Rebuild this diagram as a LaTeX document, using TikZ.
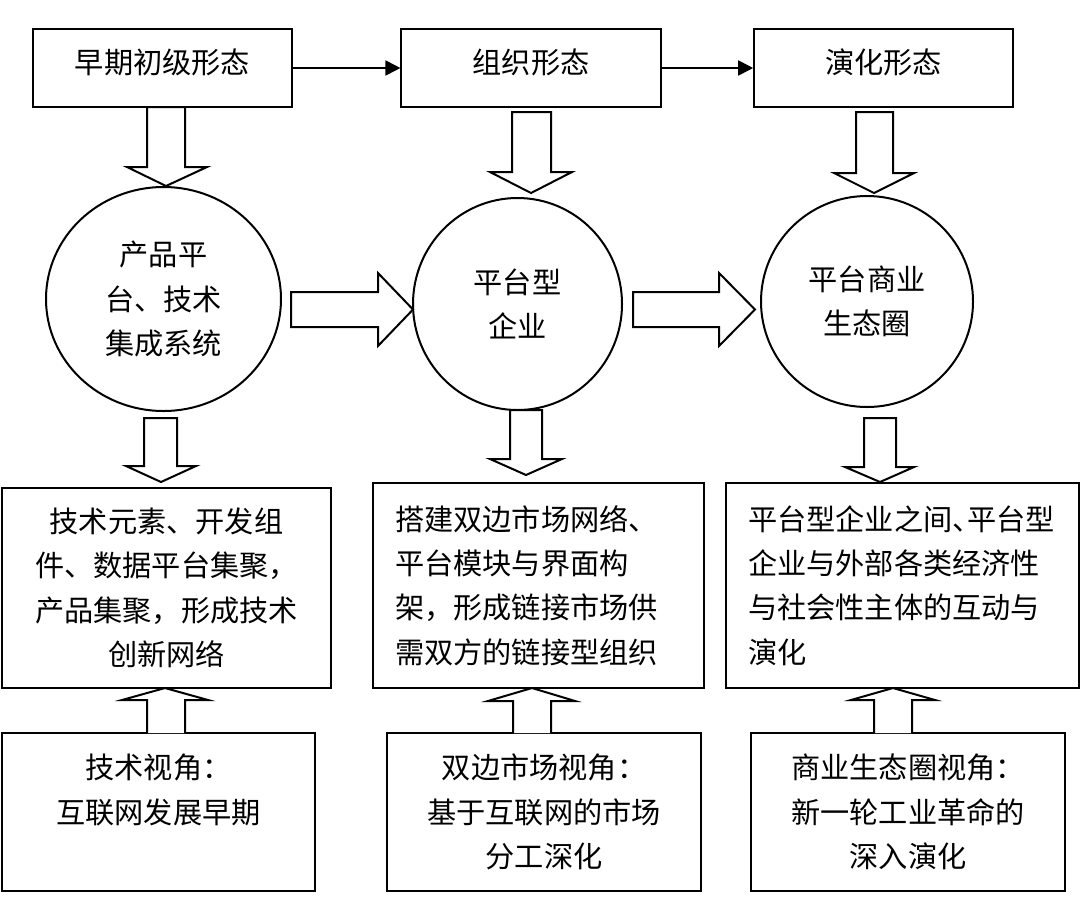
\documentclass[tikz,border=0pt]{standalone}
\usepackage{fontspec}
\setmainfont{Noto Sans CJK SC}
\usepackage{tikz}
\usetikzlibrary{positioning, shapes.geometric, arrows.meta}

\tikzset{
    box/.style={draw, line width=0.8pt, inner sep=0pt, align=center},
    headbox/.style={box, minimum height=39pt, text height=12.8pt, text depth=7.3pt},
    ring/.style={draw, ellipse, line width=1pt, inner sep=0pt, align=center},
    fat/.style={draw, line width=1pt, line join=miter, fill=white},
}

\begin{document}
\begin{tikzpicture}[x=0.5pt, y=-0.5pt, font=\fontsize{14.6}{22.2}\selectfont]
            \useasboundingbox (0, 0) rectangle (1080, 922);

            \node[headbox, minimum width=129.5pt] (early) at (162.5, 68) {早期初级形态};
            \node[headbox, minimum width=129.75pt] (organ) at (531, 68) {组织形态};
            \node[headbox, minimum width=129.5pt] (evolve) at (883.5, 68) {演化形态};

            \node[ring, minimum width=117.5pt, minimum height=112pt] (prodplat) at (163.5, 299) {产品平\\台、技术\\集成系统};
            \node[ring, minimum width=104.5pt, minimum height=106pt] (platfirm) at (517.5, 304) {平台型\\企业};
            \node[ring, minimum width=106pt, minimum height=105.5pt] (ecosys) at (867, 301.5) {平台商业\\生态圈};

            \node[box, minimum width=164.5pt, minimum height=100pt] (technet) at (166.5, 588) {技术元素、开发组\\件、数据平台集聚，\\产品集聚，形成技术\\创新网络};
            \node[box, align=left, inner xsep=11pt, text width=143.5pt, minimum height=102.5pt] (twoside) at (538.5, 585.5) {搭建双边市场网络、\\平台模块与界面构\\架，形成链接市场供\\需双方的链接型组织};
            \node[box, align=left, inner xsep=11pt, text width=154.5pt, minimum height=102.5pt] (interact) at (902.5, 585.5) {平台型企业之间\makebox[0.5em][l]{、}平台型\\企业与外部各类经济性\\与社会性主体的互动与\\演化};

            \node[box, minimum width=156.5pt, minimum height=79pt] (techview) at (158.5, 812) {技术视角：\\互联网发展早期\\\phantom{技}};
            \node[box, minimum width=157pt, minimum height=79pt] (marketview) at (544, 812) {双边市场视角：\\基于互联网的市场\\分工深化};
            \node[box, minimum width=157pt, minimum height=79pt] (ecoview) at (908, 812) {商业生态圈视角：\\新一轮工业革命的\\深入演化};

            \draw [-{Triangle[length=7.5pt, width=7.5pt]}, line width=0.9pt] (early) -- (organ);
            \draw [-{Triangle[length=7.5pt, width=7.5pt]}, line width=0.9pt] (organ) -- (evolve);

            % hollow arrows down from the forms
            \draw[fat] (147, 107) -- (147, 167) -- (127, 167) -- (166, 186) -- (207, 167) -- (185, 167) -- (185, 107) -- cycle;
            \draw[fat] (512, 112) -- (512, 172) -- (490, 172) -- (531, 193) -- (572, 172) -- (551, 172) -- (551, 112) -- cycle;
            \draw[fat] (856, 112) -- (856, 173) -- (834, 173) -- (874, 193) -- (914, 173) -- (893, 173) -- (893, 112) -- cycle;

            \draw[fat] (291, 292) -- (378, 292) -- (378, 273) -- (413, 309.5) -- (378, 346) -- (378, 327) -- (291, 327) -- cycle;
            \draw[fat] (633, 292) -- (719, 292) -- (719, 273) -- (755, 309.5) -- (719, 346) -- (719, 327) -- (633, 327) -- cycle;

            \draw[fat] (144, 418) -- (144, 466) -- (126, 466) -- (161, 482) -- (196, 466) -- (177, 466) -- (177, 418) -- cycle;
            \draw[fat] (510, 410) -- (510, 459) -- (490, 459) -- (526, 475) -- (562, 459) -- (542, 459) -- (542, 410) -- cycle;
            \draw[fat] (864, 418) -- (864, 467) -- (845, 467) -- (880, 482) -- (914, 467) -- (896, 467) -- (896, 418) -- cycle;

            % hollow arrows up from the views
            \draw[fat] (147, 733) -- (147, 700) -- (122, 700) -- (165, 688) -- (208, 700) -- (185, 700) -- (185, 733);
            \draw[fat] (513, 733) -- (513, 701) -- (488, 701) -- (532, 688) -- (575, 701) -- (551, 701) -- (551, 733);
            \draw[fat] (874, 733) -- (874, 700) -- (851, 700) -- (893, 688) -- (935, 700) -- (912, 700) -- (912, 733);
        \end{tikzpicture}
\end{document}
